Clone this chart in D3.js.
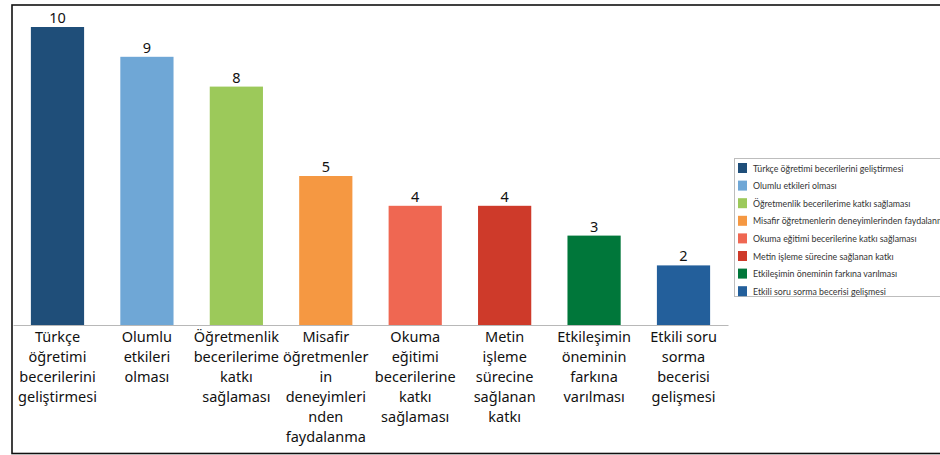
<!DOCTYPE html>
<html>
<head>
<meta charset="utf-8">
<script src="https://cdn.jsdelivr.net/npm/d3@7"></script>
<style>
  html, body { margin: 0; padding: 0; background: #fff; }
  svg { display: block; }
</style>
</head>
<body>
<svg id="chart" width="940" height="455"></svg>
<script>
// Category names (full) used in the legend
const categories = [
  "Türkçe öğretimi becerilerini geliştirmesi",
  "Olumlu etkileri olması",
  "Öğretmenlik becerilerime katkı sağlaması",
  "Misafir öğretmenlerin deneyimlerinden faydalanma",
  "Okuma eğitimi becerilerine katkı sağlaması",
  "Metin işleme sürecine sağlanan katkı",
  "Etkileşimin öneminin farkına varılması",
  "Etkili soru sorma becerisi gelişmesi"
];

// Wrapped axis labels, one entry per line
const tickLabels = [
  ["Türkçe", "öğretimi", "becerilerini", "geliştirmesi"],
  ["Olumlu", "etkileri", "olması"],
  ["Öğretmenlik", "becerilerime", "katkı", "sağlaması"],
  ["Misafir", "öğretmenler", "in", "deneyimleri", "nden", "faydalanma"],
  ["Okuma", "eğitimi", "becerilerine", "katkı", "sağlaması"],
  ["Metin", "işleme", "sürecine", "sağlanan", "katkı"],
  ["Etkileşimin", "öneminin", "farkına", "varılması"],
  ["Etkili soru", "sorma", "becerisi", "gelişmesi"]
];

const values = [10, 9, 8, 5, 4, 4, 3, 2];

const colors = ["#1f4e79", "#6fa7d6", "#9cc95a", "#f59842", "#ef6752", "#ce3a2a", "#00773a", "#235f9b"];

const svg = d3.select("#chart");
const font = "'Noto Sans', 'Open Sans', sans-serif";
const legendFont = "Lato, 'Noto Sans', sans-serif";

// Outer frame (extends past the right edge)
svg.append("rect")
  .attr("x", 12).attr("y", 5)
  .attr("width", 960).attr("height", 448.5)
  .attr("fill", "none")
  .attr("stroke", "#111")
  .attr("stroke-width", 1.6);

const x = d3.scaleBand()
  .domain(d3.range(categories.length))
  .range([13, 728])
  .paddingInner(0.405)
  .paddingOuter(0.2);

const y = d3.scaleLinear()
  .domain([0, 10])
  .range([325, 27]);

// Bars
svg.append("g").selectAll("rect")
  .data(values)
  .join("rect")
  .attr("x", (d, i) => x(i))
  .attr("y", d => y(d))
  .attr("width", x.bandwidth())
  .attr("height", d => y(0) - y(d))
  .attr("fill", (d, i) => colors[i]);

// Value labels
svg.append("g").selectAll("text")
  .data(values)
  .join("text")
  .attr("x", (d, i) => x(i) + x.bandwidth() / 2)
  .attr("y", d => y(d) - 4)
  .attr("text-anchor", "middle")
  .attr("font-family", font)
  .attr("font-size", 14.5)
  .attr("fill", "#111")
  .text(d => d);

// Category axis
const xAxis = d3.axisBottom(x).tickSize(0).tickFormat("");
const axisG = svg.append("g")
  .attr("transform", `translate(0,${y(0)})`)
  .call(xAxis);
axisG.select(".domain").attr("stroke", "#b8b8b8").attr("stroke-width", 1.2);

axisG.selectAll(".tick").each(function (d) {
  const t = d3.select(this).append("text")
    .attr("text-anchor", "middle")
    .attr("font-family", font)
    .attr("font-size", 14.5)
    .attr("fill", "#111");
  tickLabels[d].forEach((line, k) => {
    t.append("tspan")
      .attr("x", 0)
      .attr("y", 17 + k * 20)
      .text(line);
  });
});

// Legend
const legend = svg.append("g").attr("transform", "translate(734,158)");
legend.append("rect")
  .attr("x", 0.5).attr("y", 0.5)
  .attr("width", 220).attr("height", 138)
  .attr("fill", "#fff")
  .attr("stroke", "#bdbdbd");

const items = legend.selectAll("g.item")
  .data(categories)
  .join("g")
  .attr("class", "item")
  .attr("transform", (d, i) => `translate(4,${5 + i * 17.6})`);

items.append("rect")
  .attr("width", 9).attr("height", 10)
  .attr("fill", (d, i) => colors[i]);

items.append("text")
  .attr("x", 15).attr("y", 8.5)
  .attr("font-family", legendFont)
  .attr("font-size", 8.8)
  .attr("fill", "#333")
  .text(d => d);
</script>
</body>
</html>
